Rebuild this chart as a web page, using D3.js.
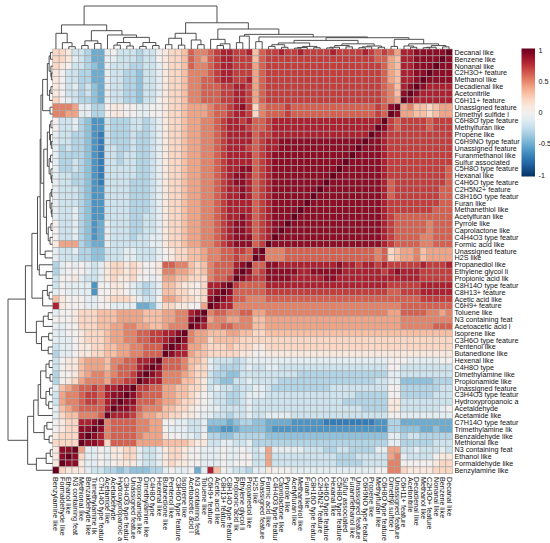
<!DOCTYPE html>
<html>
<head>
<meta charset="utf-8">
<script src="https://cdn.jsdelivr.net/npm/d3@7"></script>
<style>
  body { margin: 0; background: #fff; }
  text { font-family: "Liberation Sans", Arial, sans-serif; font-size: 7.2px; fill: #111; }
</style>
</head>
<body>
<div id="chart"></div>
<script>
// row order, top to bottom; the columns use the same list reversed
const rowLabels = [
  "Decanal like", "Benzene like", "Nonanal like", "C2H3O+ feature", "Methanol like",
  "Decadienal like", "Acetonitrile", "C6H11+ feature", "Unassigned feature", "Dimethyl sulfide l",
  "C6H8O type feature", "Methylfuran like", "Propene like", "C6H9NO type featur", "Unassigned feature",
  "Furanmethanol like", "Sulfur associated", "C5H8O type feature", "Hexanal like", "C4H6O type feature",
  "C2H5N2+ feature", "C8H16O type featur", "Furan like", "Methanethiol like", "Acetylfuran like",
  "Pyrrole like", "Caprolactone like", "C4H4O3 type featur", "Formic acid like", "Unassigned feature",
  "H2S like", "Propanediol like", "Ethylene glycol li", "Propionic acid lik", "C8H14O type featur",
  "C8H13+ feature", "Acetic acid like", "C6H9+ feature", "Toluene like", "N3 containing feat",
  "Acetoacetic acid l", "Isoprene like", "C3H6O type feature", "Pentenol like", "Butanedione like",
  "Hexenal like", "C4H8O type", "Dimethylamine like", "Propionamide like", "Unassigned feature",
  "C3H4O3 type featur", "Hydroxypropanoic a", "Acetaldehyde", "Acetamide like", "C7H14O type featur",
  "Trimethylamine lik", "Benzaldehyde like", "Methional like", "N3 containing feat", "Ethanol like",
  "Formaldehyde like", "Benzylamine like"
];

// correlation cells, one letter per cell:
// a=-1.0 ... k=0 ... u=+1.0 (steps of 0.1); a trailing number repeats the letter.
// rows 1-31, all 62 columns (left half | right half)
const topRows = [
  "mmliihffjkiiihiiklmmnqppqrssrrs|nqrrsrrsrrrrsrrrrsrqrqosst5u",
  "mmljihffjjiiihiiklmmnqpoqrssrrr|nqr17qqonsst4ut",
  "mlkiihgfjiiihhiijlmmnqppqrssrrr|oqr18qonsst3ut2",
  "lkiihhffjiihhgiijlmmnpppqrssrrr|oqr18qonsst2ut3",
  "lkiihhffjiihhgiijlmmnppqqrssrrs|oqr18qonsstut4",
  "lkijhigfjiihhgiijlmmnppqqqrrssr|oqr18qpnstuts4",
  "lkiihigfjiihhgiijlmmnppqqqrrssr|oqr18qpntuts5",
  "mkjihhgfjiihhgiiklmmnppqqqrrssr|oqr18qpouts6",
  "pppojjhhkllkkjjkklmmnooopqqrstr|mpq3rq13rqtuopnnmnoo",
  "ppoojjhhkllkkjjkklmmnooopqqrssr|mpq3rq13rqutoonnmnoo",
  "kiijhgeeihhhiihijlmmnooppqrssrs|qqrs17urqr4qr3",
  "kiijhgeeihhhiihijlmmnooppqrsssr|qqrs16utrqr4qr3",
  "jiihhgedihhhihhijlmmnooppqrssss|qrrs15utsrrr8",
  "jiihhgedihhhihhijlmmnooppqrssss|qrs2t13ut2srrr8",
  "jhihhgediihhihhijlmmnooppqrsssr|qrs2t12ut3srrr8",
  "jhhhhgediihiihhijlmmnooppqrssss|qrst12ut4srrr8",
  "jhhihgediihiihhijlmmnooppqrssss|qrst11ut5srrr8",
  "jhhihgediiiiihhijlmmnooppqrsstt|qrst10ut6srrr7q",
  "jiihhgediiiiihhijlmmnooppqrstts|qrst9ut7srrr7q",
  "jiihhgediiiihhhijlmmnooppqrstts|qrst8ut8sqrr7q",
  "jiiihgeeiiiihhhijlmmnooppqrssts|qrst7ut9sqrr6q2",
  "jiiihgeeiiiihhhijlmmnooppqrssts|qrst6ut10sqrr6q2",
  "jiiihgeeiiiihhhijlmmnooppqrssss|qrst5ut11srrr6q2",
  "jiijhgeeiiiihhhijlmmnooppqrssss|qrst4ut12srrr5q3",
  "jiijhgeeiiiihhiijlmmnooppqrssts|qrst3ut13srqq8",
  "kiijhgefjiiihhiijlmmnooppqrstts|qrst2ut14srqq4pq3",
  "kiijhgefjiiihhiijlmmnooppqrstts|qrstut15srqq4pq3",
  "kiijhgefjiiihiijjlmmnooppqrsttt|qrsut16srqq3p2q3",
  "looohgffjiiiiiijjlmmnooppqrsttt|qrut17srqq3p2q3",
  "jiijhhggiiijjiiijklmmnnoppqqrrq|tup3q14pqmno2pno4",
  "jiiihhggiiijjiiijklmmnnoppqqrqq|utp3q14pqmno2pno4"
];
// rows 32-62, left 31 columns (the rest mirrors the upper-left block)
const bottomRows = [
  "hjkjkjijlmmlmlkklqqppnmnpqqqstu",
  "hjkkkjijlmmlmlkklppoonmnpqqqtut",
  "ikkljiijlmllmkkjkoonnmmmpqqruts",
  "ikjjjjekkllkjihijnnmllkmssturqq",
  "jkjjjjekkllkjihijnnmmllmstutqqq",
  "nlkkkjjklmmmljiikoonmmlmtutsqqp",
  "slkkkjjkkjjjjffgjmmllkkoutssppp",
  "jkklmmmnnnoooonnnooppstupqqppqq",
  "kkklmmmnnnoooonnnoopptutoppoopp",
  "jjkkmmmnnooppoonnoppputsppqqppp",
  "jjkklmmmnooppqqrrsstupoonnnoonn",
  "jjjklmmmnooppqqrrstutpoomnnnnmm",
  "ijjkllmmnnooppqqqtutsoonmmmnmmm",
  "hjjkllmmnnooppqqqutssonnmmmmmll",
  "ikllnooonppqqsstuqqqpnnmjiiihij",
  "ikllnooonpqqqstutqqqpnmmjihhhij",
  "hkklnoppopqqrtutsppponmmihhggii",
  "hklmopppoqqrrutsspppnnmlihggiij",
  "jnopqqrqsstturrqqoonnmmlijiihii",
  "ioppqrrqsttutrqqqoonnmlkjiihhij",
  "ioppqrrqstuttqqqpoonmmlkjiihhij",
  "jnopqqqqsuttsqpppnnmmlkkjjiiiij",
  "jmnnpppqusssrpoonnmmllkjjiihiij",
  "klmmsstupqqqqppookkjjiijgggfghh",
  "klmmttutpqqqqppookjjjiijffeefgg",
  "lmmmtutspqqqqpooolkkjjikhhgghhh",
  "mmmmuttsmqqqqoooonnnnmlliijjiij",
  "lttuojjkjllmmjiijlmmlkkjjjkjjkj",
  "ltutmjjkjllmmjiijlmmlkkjjjkjjkk",
  "luttljjkjkllljiijlmllkkjjjkjkkk",
  "umllljiihhghggghhjkjjkfjsnkjiih"
];

const legendTicks = [1, 0.5, 0, -0.5, -1];

// cluster tree over the rows: [height, upper branch, lower branch], leaves are row numbers (1-based)
const rowTree =
  [1,
    [0.61,
      [0.465,
        [0.34,
          [0.28,
            [0.263,
              [0.225,
                [0.12, [0.08, [0.05, 1, 2], [0.04, 3, [0.03, 4, 5]]], [0.07, [0.04, 6, 7], 8]],
                [0.06, 9, 10]],
              [0.2,
                [0.12, [0.07, [0.04, 11, 12], [0.05, 13, [0.03, 14, 15]]],
                       [0.08, [0.05, 16, 17], [0.04, 18, [0.025, 19, 20]]]],
                [0.14, [0.06, [0.03, 21, 22], [0.035, 23, [0.02, 24, 25]]],
                       [0.1, [0.04, 26, 27], [0.06, 28, 29]]]]],
            [0.17, 30, 31]],
          [0.3, 32, [0.147, 33, 34]]],
        [0.225, [0.12, 35, [0.08, 36, 37]], 38]],
      [0.365,
        [0.21, [0.1, 39, 40], 41],
        [0.25, [0.09, 42, 43], [0.1, 44, 45]]]],
    [0.56,
      [0.426,
        [0.326,
          [0.27, [0.15, [0.08, 46, 47], [0.06, 48, 49]], [0.15, [0.07, 50, 51], [0.09, 52, 53]]],
          54],
        [0.19, [0.13, 55, 56], [0.08, 57, 58]]],
      [0.365, [0.147, [0.054, 59, 60], 61], 62]]];

function decodeRow(s, len, tag) {
  const out = [];
  s.replace(/([a-u])(\d*)/g, (m, c, n) => {
    const k = n ? +n : 1;
    for (let i = 0; i < k; i++) out.push((c.charCodeAt(0) - 107) / 10);
    return m;
  });
  if (out.length !== len) throw new Error(`${tag}: ${out.length} cells, expected ${len}`);
  return out;
}

const n = rowLabels.length;
const grid = [];
topRows.forEach((s, i) => {
  const [l, r] = s.split("|");
  grid[i] = decodeRow(l, 31, "top " + (i + 1) + " L").concat(decodeRow(r, 31, "top " + (i + 1) + " R"));
});
bottomRows.forEach((s, k) => {
  const i = 31 + k;
  grid[i] = decodeRow(s, 31, "bottom " + (i + 1));
  for (let j = 31; j < n; j++) grid[i][j] = grid[n - 1 - j][n - 1 - i];
});

const W = 550, H = 543;
const svg = d3.select("#chart").append("svg")
  .attr("width", W).attr("height", H)
  .style("display", "block");

const x = d3.scaleBand().domain(d3.range(n)).range([52.7, 452.3]);
const y = d3.scaleBand().domain(d3.range(n)).range([49, 473.7]);
const color = v => d3.interpolateRdBu((1 - v) / 2);

const cells = [];
grid.forEach((row, i) => row.forEach((v, j) => cells.push({ i, j, v })));

svg.append("g")
  .selectAll("rect")
  .data(cells)
  .join("rect")
  .attr("x", d => x(d.j))
  .attr("y", d => y(d.i))
  .attr("width", x.bandwidth())
  .attr("height", y.bandwidth())
  .attr("fill", d => color(d.v))
  .attr("stroke", "#a4a4a4")
  .attr("stroke-width", 0.6);

// row labels
svg.append("g")
  .selectAll("text")
  .data(rowLabels)
  .join("text")
  .attr("x", 454.5)
  .attr("y", (d, i) => y(i) + y.bandwidth() / 2)
  .attr("dy", "0.35em")
  .text(d => d);

// column labels (reversed row order), rotated
const colLabels = rowLabels.slice().reverse();
svg.append("g")
  .selectAll("text")
  .data(colLabels)
  .join("text")
  .attr("transform", (d, j) => `translate(${x(j) + x.bandwidth() / 2},477) rotate(90)`)
  .attr("dy", "0.35em")
  .text(d => d);

// dendrograms
function drawTree(g, posOf, hScale, horizontal) {
  const paths = [];
  function walk(node) {
    if (typeof node === "number") return { p: posOf(node), h: 0 };
    const a = walk(node[1]), b = walk(node[2]);
    const h = node[0], p = (a.p + b.p) / 2;
    if (horizontal) {
      paths.push(`M${hScale(a.h)},${a.p}H${hScale(h)}V${b.p}H${hScale(b.h)}`);
    } else {
      paths.push(`M${a.p},${hScale(a.h)}V${hScale(h)}H${b.p}V${hScale(b.h)}`);
    }
    return { p, h };
  }
  walk(rowTree);
  g.selectAll("path")
    .data(paths)
    .join("path")
    .attr("d", d => d)
    .attr("fill", "none")
    .attr("stroke", "#3c3c3c")
    .attr("stroke-width", 0.9);
}

const leftH = d3.scaleLinear().domain([0, 1]).range([52.7, 8]);
drawTree(svg.append("g"), a => y(a - 1) + y.bandwidth() / 2, leftH, true);

const topH = d3.scaleLinear().domain([0, 1]).range([49, 6]);
drawTree(svg.append("g"), a => x(n - a) + x.bandwidth() / 2, topH, false);

// colour legend
const cb = d3.scaleLinear().domain([-1, 1]).range([175, 50]);
const grad = svg.append("defs").append("linearGradient")
  .attr("id", "cbar").attr("x1", 0).attr("x2", 0).attr("y1", 0).attr("y2", 1);
d3.range(1, -1.001, -0.1).forEach((v, k, arr) => {
  grad.append("stop")
    .attr("offset", k / (arr.length - 1))
    .attr("stop-color", color(v));
});
svg.append("rect")
  .attr("x", 521.5).attr("y", cb(1) - 1.5)
  .attr("width", 13.5).attr("height", cb(-1) - cb(1) + 3)
  .attr("fill", "url(#cbar)");
svg.append("g")
  .selectAll("text")
  .data(legendTicks)
  .join("text")
  .attr("x", 538.5)
  .attr("y", d => cb(d))
  .attr("dy", "0.35em")
  .text(d => d);
</script>
</body>
</html>
